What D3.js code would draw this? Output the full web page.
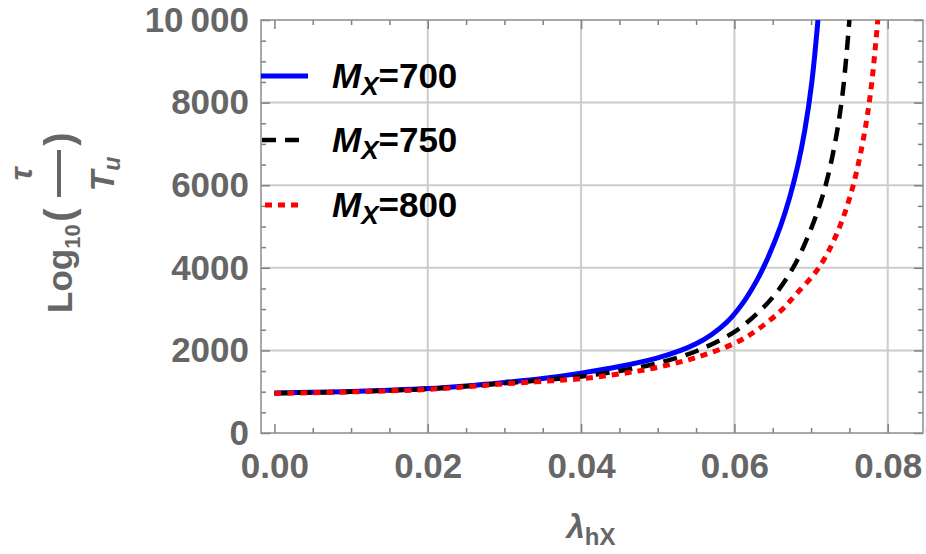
<!DOCTYPE html>
<html>
<head>
<meta charset="utf-8">
<script src="https://cdn.jsdelivr.net/npm/d3@7"></script>
<style>
  html, body { margin: 0; padding: 0; background: #fff; }
  svg { display: block; }
  text { font-family: "Liberation Sans", Arial, sans-serif; font-weight: bold; }
</style>
</head>
<body>
<div id="chart"></div>
<script>
// ---- data ----
const xTicks = [0, 0.02, 0.04, 0.06, 0.08];
const xTickLabels = ["0.00", "0.02", "0.04", "0.06", "0.08"];
const yTicks = [0, 2000, 4000, 6000, 8000, 10000];
const yTickLabels = ["0", "2000", "4000", "6000", "8000", "10\u2009000"];

const lam700 = [0, 0.005, 0.01, 0.015, 0.02, 0.025, 0.03, 0.035, 0.04, 0.045, 0.05, 0.053, 0.055, 0.057, 0.059, 0.061, 0.063, 0.0645, 0.066, 0.0672, 0.0683, 0.0692, 0.0701, 0.0709];
const tau700 = [970, 985, 1005, 1035, 1075, 1140, 1225, 1320, 1450, 1610, 1820, 2000, 2160, 2380, 2680, 3120, 3720, 4300, 5000, 5700, 6500, 7350, 8500, 10000];

const lam750 = [0, 0.005, 0.01, 0.015, 0.02, 0.025, 0.03, 0.035, 0.04, 0.045, 0.05, 0.055, 0.06, 0.063, 0.0655, 0.0678, 0.0698, 0.0716, 0.073, 0.0741, 0.075];
const tau750 = [965, 980, 1000, 1030, 1065, 1130, 1205, 1280, 1370, 1500, 1690, 1980, 2450, 2900, 3400, 4050, 4850, 5800, 6900, 8200, 10000];

const lam800 = [0, 0.005, 0.01, 0.015, 0.02, 0.025, 0.03, 0.035, 0.04, 0.045, 0.05, 0.055, 0.06, 0.063, 0.066, 0.068, 0.071, 0.0733, 0.0752, 0.0767, 0.0778, 0.0787];
const tau800 = [960, 975, 995, 1020, 1055, 1120, 1190, 1250, 1315, 1430, 1590, 1830, 2170, 2500, 2950, 3350, 4000, 4800, 5800, 7000, 8300, 10000];

const seriesNames = ["700", "750", "800"];

// ---- layout ----
const W = 926, H = 554;
const L = 261, R = 923, T = 20, B = 433;

const svg = d3.select("#chart").append("svg")
  .attr("width", W).attr("height", H);

svg.append("rect").attr("width", W).attr("height", H).attr("fill", "#fff");

const x = d3.scaleLinear().domain([-0.00175, 0.0846]).range([L, R]);
const y = d3.scaleLinear().domain([0, 10000]).range([B, T]);

// grid
const grid = svg.append("g").attr("stroke", "#cccccc").attr("stroke-width", 2);
xTicks.filter(d => d > 0).forEach(d => {
  grid.append("line").attr("x1", x(d)).attr("x2", x(d)).attr("y1", T).attr("y2", B);
});
yTicks.filter(d => d > 0 && d < 10000).forEach(d => {
  grid.append("line").attr("x1", L).attr("x2", R).attr("y1", y(d)).attr("y2", y(d));
});

// minor tick positions
const xMinor = d3.range(0, 0.0851, 0.005).filter(d => Math.abs(d / 0.02 - Math.round(d / 0.02)) > 1e-6);
const yMinor = d3.range(500, 10000, 500).filter(d => d % 2000 !== 0);

function styleAxis(g) {
  g.select(".domain").remove();
  g.selectAll(".tick line").attr("stroke", "#808080").attr("stroke-width", 1.5);
  g.selectAll("text").attr("fill", "#666").attr("font-size", 35);
}

// bottom
svg.append("g").attr("transform", `translate(0,${B})`)
  .call(d3.axisBottom(x).tickValues(xTicks).tickFormat((d, i) => xTickLabels[i]).tickSizeInner(-9).tickSizeOuter(0).tickPadding(20))
  .call(styleAxis);
svg.append("g").attr("transform", `translate(0,${B})`)
  .call(d3.axisBottom(x).tickValues(xMinor).tickFormat("").tickSizeInner(-5).tickSizeOuter(0))
  .call(styleAxis);
// top
svg.append("g").attr("transform", `translate(0,${T})`)
  .call(d3.axisTop(x).tickValues(xTicks).tickFormat("").tickSizeInner(-9).tickSizeOuter(0))
  .call(styleAxis);
svg.append("g").attr("transform", `translate(0,${T})`)
  .call(d3.axisTop(x).tickValues(xMinor).tickFormat("").tickSizeInner(-5).tickSizeOuter(0))
  .call(styleAxis);
// left
svg.append("g").attr("transform", `translate(${L},0)`)
  .call(d3.axisLeft(y).tickValues(yTicks).tickFormat((d, i) => yTickLabels[i]).tickSizeInner(-9).tickSizeOuter(0).tickPadding(12))
  .call(styleAxis);
svg.append("g").attr("transform", `translate(${L},0)`)
  .call(d3.axisLeft(y).tickValues(yMinor).tickFormat("").tickSizeInner(-5).tickSizeOuter(0))
  .call(styleAxis);
// right
svg.append("g").attr("transform", `translate(${R},0)`)
  .call(d3.axisRight(y).tickValues(yTicks).tickFormat("").tickSizeInner(-9).tickSizeOuter(0))
  .call(styleAxis);
svg.append("g").attr("transform", `translate(${R},0)`)
  .call(d3.axisRight(y).tickValues(yMinor).tickFormat("").tickSizeInner(-5).tickSizeOuter(0))
  .call(styleAxis);

// frame
svg.append("rect").attr("x", L).attr("y", T).attr("width", R - L).attr("height", B - T)
  .attr("fill", "none").attr("stroke", "#8c8c8c").attr("stroke-width", 1.5);

// curves
svg.append("clipPath").attr("id", "plotclip")
  .append("rect").attr("x", L).attr("y", T).attr("width", R - L).attr("height", B - T);

const styles = [
  { color: "#0000ff", width: 5, dash: null },
  { color: "#000000", width: 4.5, dash: "14,9" },
  { color: "#ff0000", width: 5, dash: "7,6" }
];
const data = [
  d3.zip(lam700, tau700),
  d3.zip(lam750, tau750),
  d3.zip(lam800, tau800)
];
const line = d3.line().x(d => x(d[0])).y(d => y(d[1])).curve(d3.curveCatmullRom.alpha(0.5));

const curves = svg.append("g").attr("clip-path", "url(#plotclip)");
// blue first, red dots end up on top where the curves overlap
data.forEach((d, i) => {
  curves.append("path").datum(d)
    .attr("fill", "none")
    .attr("stroke", styles[i].color)
    .attr("stroke-width", styles[i].width)
    .attr("stroke-dasharray", styles[i].dash)
    .attr("d", line);
});

// legend
const legendY = [76, 140, 205];
const legendX = [[261, 308], [262, 303], [265, 301]];
seriesNames.forEach((name, i) => {
  svg.append("line")
    .attr("x1", legendX[i][0]).attr("x2", legendX[i][1])
    .attr("y1", legendY[i]).attr("y2", legendY[i])
    .attr("stroke", styles[i].color).attr("stroke-width", styles[i].width)
    .attr("stroke-dasharray", styles[i].dash);
  const t = svg.append("text").attr("x", 332).attr("y", legendY[i] + 12)
    .attr("fill", "#000").attr("font-size", 35);
  t.append("tspan").attr("font-style", "italic").text("M");
  t.append("tspan").attr("font-style", "italic").attr("font-size", 26).attr("dy", 7).text("X");
  t.append("tspan").attr("dy", -7).text("=" + name);
});

// x axis title
const xt = svg.append("text").attr("x", 591).attr("y", 538).attr("text-anchor", "middle")
  .attr("fill", "#666").attr("font-size", 33);
xt.append("tspan").attr("font-style", "italic").text("\u03bb");
xt.append("tspan").attr("font-size", 24).attr("dy", 7).text("hX");

// y axis title  (rotated; u = -screenY, v = screenX)
const yt = svg.append("g").attr("transform", "rotate(-90)").attr("fill", "#666");
const lg = yt.append("text").attr("x", -313).attr("y", 72).attr("font-size", 35);
lg.append("tspan").text("Log");
lg.append("tspan").attr("font-size", 22).attr("dy", 8).text("10");
yt.append("text").attr("x", -215).attr("y", 73).attr("font-size", 40).attr("text-anchor", "middle").text("(");
yt.append("text").attr("x", -139).attr("y", 73).attr("font-size", 40).attr("text-anchor", "middle").text(")");
yt.append("line").attr("x1", -197).attr("x2", -150).attr("y1", 59).attr("y2", 59)
  .attr("stroke", "#666").attr("stroke-width", 4);
yt.append("text").attr("x", -174).attr("y", 32).attr("font-size", 32).attr("font-style", "italic")
  .attr("text-anchor", "middle").text("\u03c4");
const tu = yt.append("text").attr("x", -174).attr("y", 114).attr("font-size", 34).attr("font-style", "italic")
  .attr("text-anchor", "middle");
tu.append("tspan").text("T");
tu.append("tspan").attr("font-size", 23).attr("dy", 6).text("u");
</script>
</body>
</html>
